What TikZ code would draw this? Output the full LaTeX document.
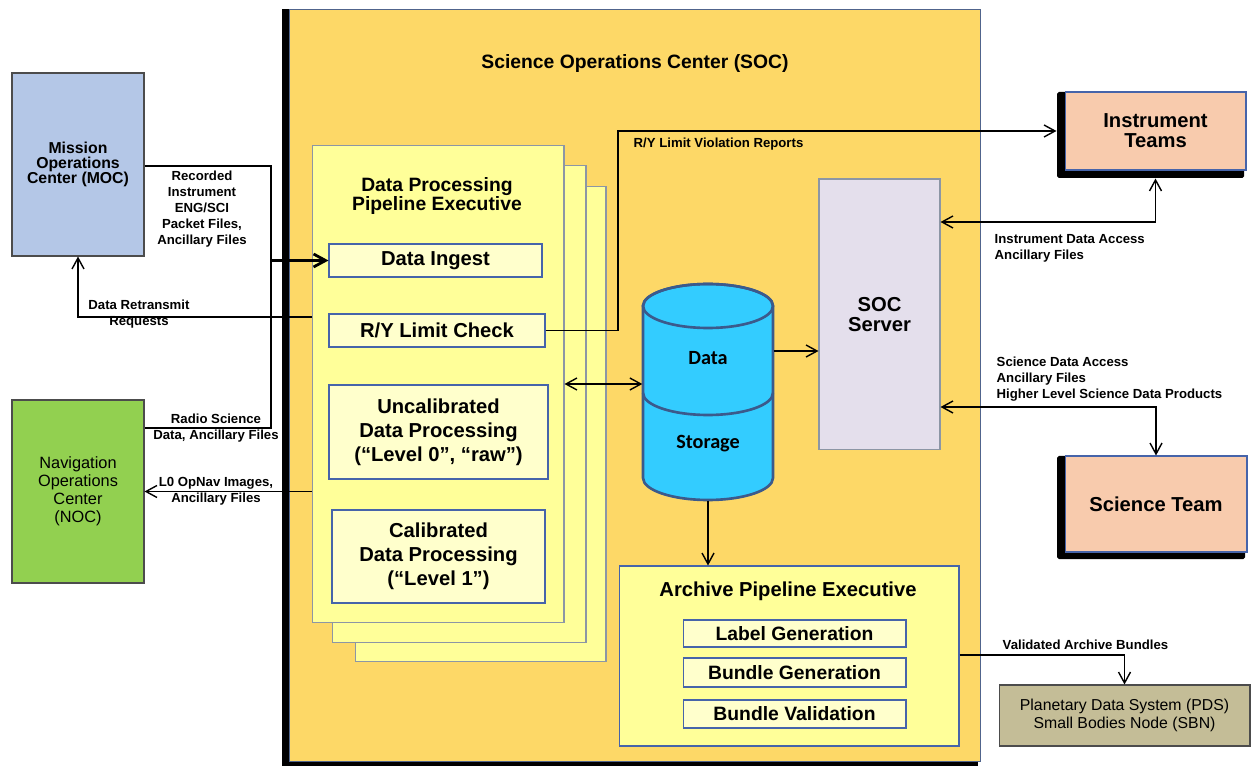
\documentclass[tikz,border=0pt]{standalone}
\usepackage{fontspec}
\setmainfont{Liberation Sans}
\newfontfamily\calibri{Carlito}
\usetikzlibrary{arrows.meta}

\definecolor{socfill}{RGB}{253,216,103}
\definecolor{socline}{RGB}{80,100,140}
\definecolor{stackfill}{RGB}{255,255,153}
\definecolor{stackline}{RGB}{140,150,165}
\definecolor{procfill}{RGB}{255,255,204}
\definecolor{procline}{RGB}{70,100,170}
\definecolor{mocfill}{RGB}{180,199,231}
\definecolor{nocfill}{RGB}{146,208,80}
\definecolor{teamfill}{RGB}{248,203,173}
\definecolor{pdsfill}{RGB}{196,189,151}
\definecolor{srvfill}{RGB}{228,223,236}
\definecolor{dbfill}{RGB}{51,204,255}
\definecolor{dbline}{RGB}{59,90,140}

\begin{document}
\begin{tikzpicture}[x=0.02cm, y=-0.02cm, line width=0.8pt,
	arr/.style={-{Straight Barb[length=2.2mm,width=2.4mm]}},
	arrs/.style={{Straight Barb[length=2.2mm,width=2.4mm]}-{Straight Barb[length=2.2mm,width=2.4mm]}},
	lbl/.style={font=\fontsize{7.5}{9.1}\selectfont\bfseries, align=center, inner sep=0pt},
	stack/.style={draw=stackline, fill=stackfill, line width=0.6pt},
	procbox/.style={draw=procline, fill=procfill, line width=0.6pt, align=center, inner sep=0pt,
		font=\fontsize{11.5}{13.7}\selectfont\bfseries},
	ext/.style={draw=black!70, line width=0.6pt, align=center, inner sep=0pt},
	team/.style={draw=procline, fill=teamfill, line width=0.6pt, align=center, inner sep=0pt,
		font=\fontsize{11.5}{11.4}\selectfont\bfseries}]

	\useasboundingbox (0,0) rectangle (1254,766);

	% Science Operations Center
	\fill[black] (282,9) rectangle (978,766);
	\node[draw=socline, fill=socfill, line width=0.6pt, minimum width=13.84cm, minimum height=15.06cm] (soc) at (635,385.5) {};
	\node[font=\fontsize{11}{13}\selectfont\bfseries] (socTitle) at (635,64) {Science Operations Center (SOC)};

	% Data processing pipeline (stacked)
	\node[stack, minimum width=5.02cm, minimum height=9.52cm] (pipeC) at (480.5,424) {};
	\node[stack, minimum width=5.08cm, minimum height=9.56cm] (pipeB) at (459,404) {};
	\node[stack, minimum width=5.04cm, minimum height=9.56cm] (pipeA) at (438,384) {};
	\node[align=center, font=\fontsize{11}{10.2}\selectfont\bfseries] (pipeTitle) at (437,196) {Data Processing\\Pipeline Executive};

	\node[procbox, minimum width=4.26cm, minimum height=0.66cm] (ingest) at (435.5,260.5) {Data Ingest};
	\node[procbox, minimum width=4.32cm, minimum height=0.66cm] (rycheck) at (437,330.5) {R/Y Limit Check};
	\node[procbox, minimum width=4.38cm, minimum height=1.88cm] (uncal) at (438.5,432) {Uncalibrated\\Data Processing\\(“Level 0”, “raw”)};
	\node[procbox, minimum width=4.26cm, minimum height=1.86cm] (cal) at (438.5,556.5) {Calibrated\\Data Processing\\(“Level 1”)};

	% Data storage
	\node[inner sep=0pt, minimum width=2.6cm, minimum height=4.32cm] (store) at (708,392) {};
	\filldraw[fill=dbfill, draw=dbline, line width=1.5pt] (643,306) -- (643,478)
		arc[start angle=180, end angle=360, x radius=1.3cm, y radius=0.44cm] -- (773,306)
		arc[start angle=0, end angle=180, x radius=1.3cm, y radius=0.44cm] -- cycle;
	\draw[draw=dbline, line width=1.5pt] (708,306) ellipse[x radius=1.3cm, y radius=0.44cm];
	\draw[draw=dbline, line width=1.5pt] (643,393) arc[start angle=180, end angle=360, x radius=1.3cm, y radius=0.44cm];
	\node[font=\fontsize{11.5}{13}\selectfont\calibri\bfseries] (dbData) at (708,358) {Data};
	\node[font=\fontsize{11.5}{13}\selectfont\calibri\bfseries] (dbStorage) at (708,444) {Storage};

	% SOC server
	\node[draw=stackline, fill=srvfill, line width=0.6pt, minimum width=2.42cm, minimum height=5.42cm,
		align=center, font=\fontsize{11.5}{11.4}\selectfont\bfseries] (srv) at (879.5,314.5) {SOC\\Server};

	% Archive pipeline
	\node[draw=procline, fill=stackfill, line width=0.6pt, minimum width=6.8cm, minimum height=3.6cm] (arch) at (789,656) {};
	\node[font=\fontsize{11.5}{13}\selectfont\bfseries] (archTitle) at (788,591) {Archive Pipeline Executive};
	\node[procbox, font=\fontsize{11}{13}\selectfont\bfseries, minimum width=4.46cm, minimum height=0.54cm] (labgen) at (794.5,633.5) {Label Generation};
	\node[procbox, font=\fontsize{11}{13}\selectfont\bfseries, minimum width=4.46cm, minimum height=0.58cm] (bungen) at (794.5,672.5) {Bundle Generation};
	\node[procbox, font=\fontsize{11}{13}\selectfont\bfseries, minimum width=4.46cm, minimum height=0.56cm] (bunval) at (794.5,714) {Bundle Validation};

	% Outside centers
	\node[ext, fill=mocfill, minimum width=2.64cm, minimum height=3.66cm, font=\fontsize{9}{8.4}\selectfont\bfseries] (moc) at (78,164.5) {Mission\\Operations\\Center (MOC)};
	\node[ext, fill=nocfill, minimum width=2.64cm, minimum height=3.66cm, font=\fontsize{9.3}{10.2}\selectfont] (noc) at (78,491.5) {Navigation\\Operations\\Center\\(NOC)};

	\fill[black, rounded corners=1pt] (1057,92) rectangle (1244,178);
	\node[team, minimum width=3.62cm, minimum height=1.56cm] (instr) at (1155.5,131) {Instrument\\Teams};
	\fill[black, rounded corners=1pt] (1057,456) rectangle (1245,559);
	\node[team, minimum width=3.64cm, minimum height=1.92cm] (sci) at (1156,504) {Science Team};

	\node[ext, fill=pdsfill, minimum width=5.02cm, minimum height=1.22cm, font=\fontsize{9}{10.2}\selectfont] (pds) at (1124.5,715.5) {Planetary Data System (PDS)\\Small Bodies Node (SBN)};

	% Draw the connectors
	\coordinate (busTop) at (271,166);
	\coordinate (busBot) at (271,428);
	\coordinate (retx) at (312,317);
	\coordinate (vtop) at (618,131);
	\coordinate (s1) at ([yshift=0.82cm]store.east);
	\coordinate (ia) at (1155.5,222);
	\coordinate (sa) at (1156,407);
	\coordinate (va) at (1124.5,655);

	\draw (moc.east |- busTop) -- (busTop) -- (busBot) -- (noc.east |- busBot);
	\draw[line width=1.6pt, -{Straight Barb[length=2.4mm,width=2.6mm]}] (busTop |- ingest.west) -- (ingest.west);
	\draw[arr] (retx) -| (moc.south);
	\draw[arr] (pipeA.west |- noc.east) -- (noc.east);
	\draw[arr, shorten >=0.16cm] (rycheck.east) -| (vtop) -- (instr.west);
	\draw[arrs] (pipeA.east) -- (pipeA.east -| store.west);
	\draw[arr] (s1) -- (s1 -| srv.west);
	\draw[arr] (store.south) -- (store.south |- arch.north);
	\draw[arrs, shorten >=0.16cm] (srv.east |- ia) -- (ia) -- (instr.south);
	\draw[arrs] (srv.east |- sa) -- (sa) -- (sci.north);
	\draw[arr] (arch.east |- va) -- (va) -- (pds.north);

	% Connector labels
	\node[lbl] (lblRec) at (202,209) {Recorded\\Instrument\\ENG/SCI\\Packet Files,\\Ancillary Files};
	\node[lbl] (lblRetx) at (139,314.5) {Data Retransmit\\Requests};
	\node[lbl] (lblRadio) at (216,428) {Radio Science\\Data, Ancillary Files};
	\node[lbl] (lblOpNav) at (216,491.5) {L0 OpNav Images,\\Ancillary Files};
	\node[lbl, anchor=west] (lblViol) at (633,144) {R/Y Limit Violation Reports};
	\node[lbl, anchor=west, align=left] (lblInstr) at (994,248) {Instrument Data Access\\Ancillary Files};
	\node[lbl, anchor=west, align=left] (lblSci) at (996,379.5) {Science Data Access\\Ancillary Files\\Higher Level Science Data Products};
	\node[lbl, anchor=west] (lblVal) at (1002,645) {Validated Archive Bundles};
\end{tikzpicture}
\end{document}
